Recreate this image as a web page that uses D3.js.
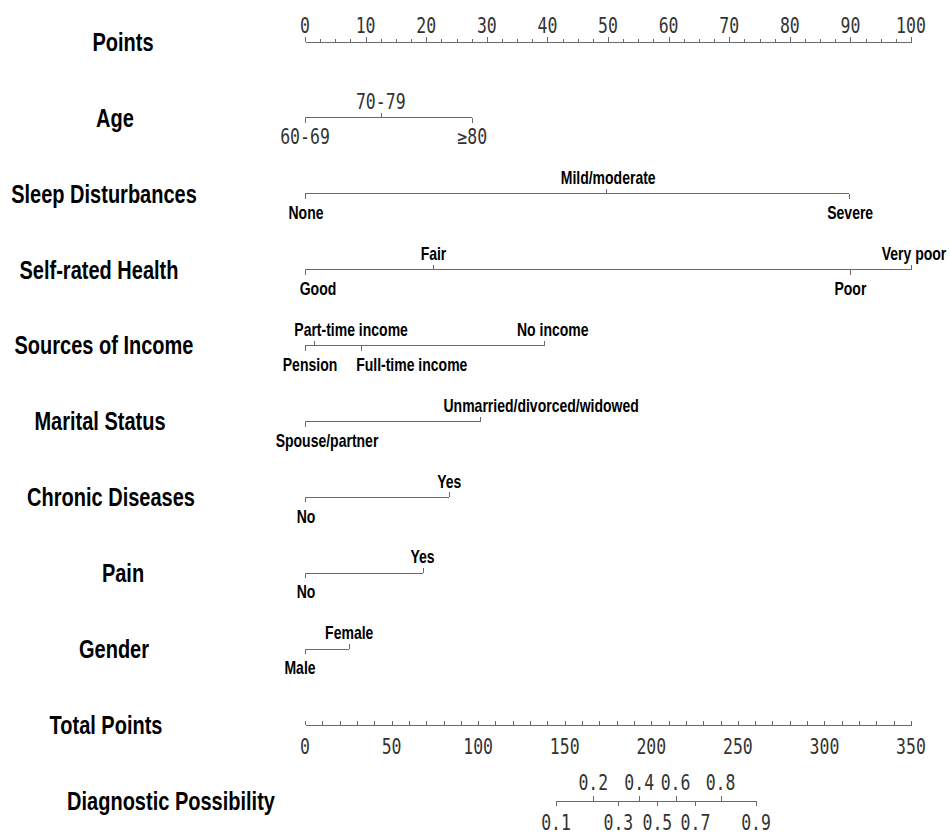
<!DOCTYPE html>
<html>
<head>
<meta charset="utf-8">
<script src="https://cdn.jsdelivr.net/npm/d3@7"></script>
<style>
  html, body { margin: 0; padding: 0; background: #fff; }
  svg { display: block; }
  .rowname { font-family: "Liberation Sans", Arial, sans-serif; font-weight: bold; font-size: 20px; fill: #000; }
  .level { font-family: "Liberation Sans", Arial, sans-serif; font-weight: bold; font-size: 14px; fill: #000; }
  .num { font-family: "DejaVu Sans Mono", monospace; font-size: 16.5px; fill: #333; }
  .rule path, .rule line { stroke: #6a6a6a; stroke-width: 1; shape-rendering: crispEdges; }
</style>
</head>
<body>
<svg id="chart" width="950" height="834"></svg>
<script>
// Nomogram: predictor points, total points and diagnostic possibility.
const rowNames = ["Points", "Age", "Sleep Disturbances", "Self-rated Health", "Sources of Income",
  "Marital Status", "Chronic Diseases", "Pain", "Gender", "Total Points", "Diagnostic Possibility"];

const pointTickLabels = [0, 10, 20, 30, 40, 50, 60, 70, 80, 90, 100];
const totalTickLabels = [0, 50, 100, 150, 200, 250, 300, 350];

const ageLevels = ["60-69", "70-79", "≥80"];
const agePoints = [0, 12.5, 27.6];
const sleepLevels = ["None", "Mild/moderate", "Severe"];
const sleepPoints = [0, 49.7, 89.8];
const healthLevels = ["Good", "Fair", "Poor", "Very poor"];
const healthPoints = [0, 21.2, 90.0, 100];
const incomeLevels = ["Pension", "Part-time income", "Full-time income", "No income"];
const incomePoints = [0, 1.5, 9.2, 39.4];
const maritalLevels = ["Spouse/partner", "Unmarried/divorced/widowed"];
const maritalPoints = [0, 28.9];
const chronicLevels = ["No", "Yes"];
const chronicPoints = [0, 23.8];
const painLevels = ["No", "Yes"];
const painPoints = [0, 19.4];
const genderLevels = ["Male", "Female"];
const genderPoints = [0, 7.3];

const probLabels = ["0.1", "0.2", "0.3", "0.4", "0.5", "0.6", "0.7", "0.8", "0.9"];
const probTotalPoints = [145, 166.5, 181, 193, 203.5, 214, 225.5, 240, 260.5];

// Layout
const VS = 1.27;                 // vertical text stretch
const x0 = 305, x1 = 911;
const nameX = {
  "Points": 123, "Age": 115, "Sleep Disturbances": 104, "Self-rated Health": 99,
  "Sources of Income": 104, "Marital Status": 100, "Chronic Diseases": 111, "Pain": 123,
  "Gender": 114, "Total Points": 106, "Diagnostic Possibility": 171
};
// horizontal nudges of level labels away from their tick
const nudge = {
  "Good": 13, "Part-time income": 37, "Pension": 5, "Full-time income": 51, "No income": 9,
  "Spouse/partner": 22, "Unmarried/divorced/widowed": 61, "Mild/moderate": 2, "Severe": 1,
  "Very poor": 3, "Male": -5, "None": 1, "No": 1
};

const svg = d3.select("#chart");
const y = d3.scalePoint().domain(rowNames).range([42, 801]);
const xPts = d3.scaleLinear().domain([0, 100]).range([x0, x1]);
const xTot = d3.scaleLinear().domain([0, 350]).range([x0, x1]);

function label(x, yy, str, cls) {
  svg.append("text")
    .attr("class", cls)
    .attr("transform", `translate(${x},${yy}) scale(1,${VS})`)
    .attr("text-anchor", "middle")
    .attr("dominant-baseline", "central")
    .text(str);
}

// Row names
rowNames.forEach(n => label(nameX[n], y(n), n, "rowname"));

// Points scale (top)
const gp = svg.append("g").attr("class", "rule").attr("transform", `translate(0,${y("Points")})`);
gp.call(d3.axisTop(xPts).tickValues(d3.range(0, 100.01, 2.5)).tickSize(3).tickSizeOuter(0).tickFormat(""));
gp.selectAll(".tick line").filter(d => d % 10 === 0).attr("y2", -5);
pointTickLabels.forEach(v => label(xPts(v), y("Points") - 16, String(v), "num"));

// Predictor rows
const predictors = [
  ["Age", ageLevels, agePoints, "num"],
  ["Sleep Disturbances", sleepLevels, sleepPoints, "level"],
  ["Self-rated Health", healthLevels, healthPoints, "level"],
  ["Sources of Income", incomeLevels, incomePoints, "level"],
  ["Marital Status", maritalLevels, maritalPoints, "level"],
  ["Chronic Diseases", chronicLevels, chronicPoints, "level"],
  ["Pain", painLevels, painPoints, "level"],
  ["Gender", genderLevels, genderPoints, "level"]
];

predictors.forEach(([name, levels, pts, cls]) => {
  const yy = y(name);
  const g = svg.append("g").attr("class", "rule");
  g.append("line")
    .attr("x1", xPts(d3.min(pts))).attr("x2", xPts(d3.max(pts)))
    .attr("y1", yy).attr("y2", yy);
  const order = d3.range(levels.length).sort((a, b) => pts[a] - pts[b]);
  order.forEach((i, k) => {
    const up = k % 2 === 1;
    const xx = Math.round(xPts(pts[i])) + 0.5;
    g.append("line")
      .attr("x1", xx).attr("x2", xx)
      .attr("y1", yy).attr("y2", up ? yy - 5 : yy + 5);
    const lx = xPts(pts[i]) + (nudge[levels[i]] || 0);
    label(lx, up ? yy - 16 : yy + 19, levels[i], cls);
  });
});

// Total points scale
const gt = svg.append("g").attr("class", "rule").attr("transform", `translate(0,${y("Total Points")})`);
gt.call(d3.axisTop(xTot).tickValues(d3.range(0, 350.01, 10)).tickSize(4).tickSizeOuter(0).tickFormat(""));
totalTickLabels.forEach(v => label(xTot(v), y("Total Points") + 22, String(v), "num"));

// Diagnostic possibility scale
const yp = y("Diagnostic Possibility");
const gd = svg.append("g").attr("class", "rule");
gd.append("line")
  .attr("x1", xTot(d3.min(probTotalPoints))).attr("x2", xTot(d3.max(probTotalPoints)))
  .attr("y1", yp).attr("y2", yp);
probTotalPoints.forEach((t, i) => {
  const up = i % 2 === 1;
  const xx = Math.round(xTot(t)) + 0.5;
  gd.append("line").attr("x1", xx).attr("x2", xx).attr("y1", yp).attr("y2", up ? yp - 5 : yp + 5);
  label(xTot(t), up ? yp - 18 : yp + 22, probLabels[i], "num");
});
</script>
</body>
</html>
